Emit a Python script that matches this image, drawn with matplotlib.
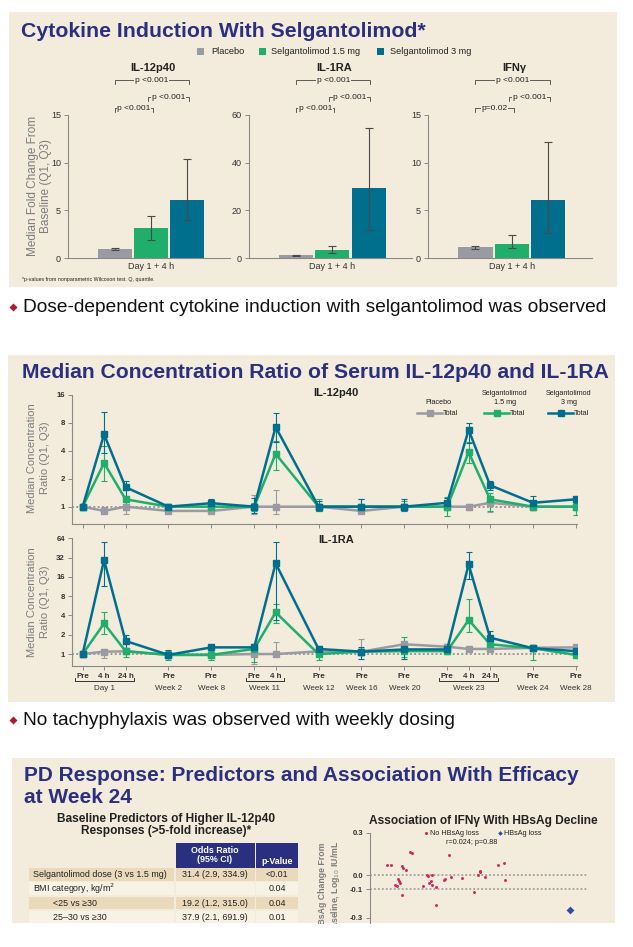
import numpy as np
import matplotlib
matplotlib.use('Agg')
import matplotlib.pyplot as plt
from matplotlib import transforms
from matplotlib.patches import Rectangle
from matplotlib.ticker import NullLocator

plt.rcParams['font.family'] = ['Liberation Sans', 'DejaVu Sans']

W, H = 633, 947

BG = '#f3ebdb'
NAVY = '#2b2f80'
GRAY = '#9a9aa3'
GREEN = '#1fae6b'
TEAL = '#006f8e'
SPINE = '#8a8a8a'
LABEL = '#7d7d7d'

# ---------------- data: bar charts (day 1 + 4 h, median fold change, Q1, Q3)
groups = ['Placebo', 'Selgantolimod 1.5 mg', 'Selgantolimod 3 mg']
il12_med = [0.94, 3.1, 6.1]
il12_q1 = [0.86, 1.9, 4.0]
il12_q3 = [1.0, 4.4, 10.4]
il1ra_med = [1.2, 3.5, 29.4]
il1ra_q1 = [1.0, 2.1, 11.9]
il1ra_q3 = [1.4, 4.9, 54.5]
ifng_med = [1.15, 1.5, 6.1]
ifng_q1 = [0.97, 1.05, 2.6]
ifng_q3 = [1.29, 2.44, 12.2]
pvals_il12 = ['p <0.001', 'p <0.001', 'p <0.001']
pvals_il1ra = ['p <0.001', 'p <0.001', 'p <0.001']
pvals_ifng = ['p <0.001', 'p <0.001', 'p=0.02']

# ---------------- data: concentration ratio over time
visits = [('Day 1', ['Pre', '4 h', '24 h']), ('Week 2', ['Pre']), ('Week 8', ['Pre']),
          ('Week 11', ['Pre', '4 h']), ('Week 12', ['Pre']), ('Week 16', ['Pre']),
          ('Week 20', ['Pre']), ('Week 23', ['Pre', '4 h', '24 h']), ('Week 24', ['Pre']),
          ('Week 28', ['Pre'])]

p12_pbo = [1.0, 0.9, 1.0, 0.9, 0.9, 1.0, 1.0, 1.0, 0.9, 1.0, 1.0, 1.0, 1.1, 1.0, 1.0]
p12_pbo_q1 = [1.0, 0.85, 0.84, 0.85, 0.85, 0.84, 0.84, 0.95, 0.85, 0.95, 0.95, 0.92, 0.88, 0.95, 0.95]
p12_pbo_q3 = [1.0, 1.0, 1.25, 0.95, 0.95, 1.35, 1.5, 1.05, 0.95, 1.05, 1.05, 1.07, 1.25, 1.05, 1.05]
p12_lo = [1.0, 2.95, 1.2, 1.0, 1.0, 1.0, 3.7, 1.0, 1.0, 1.0, 1.0, 3.85, 1.2, 1.0, 1.0]
p12_lo_q1 = [1.0, 1.9, 1.08, 0.93, 0.93, 0.9, 2.45, 0.9, 0.9, 0.92, 0.8, 2.95, 0.9, 0.92, 0.82]
p12_lo_q3 = [1.0, 4.5, 1.3, 1.07, 1.07, 1.1, 5.1, 1.2, 1.2, 1.15, 1.27, 5.0, 1.4, 1.1, 1.18]
p12_hi = [1.0, 6.0, 1.62, 1.0, 1.09, 1.0, 7.2, 1.0, 1.0, 1.0, 1.1, 6.7, 1.7, 1.1, 1.2]
p12_hi_q1 = [1.0, 3.8, 1.28, 0.93, 1.0, 0.85, 5.0, 0.9, 0.9, 0.9, 0.95, 4.8, 1.5, 0.92, 1.1]
p12_hi_q3 = [1.0, 10.3, 1.9, 1.08, 1.2, 1.25, 10.1, 1.15, 1.2, 1.2, 1.25, 8.0, 1.9, 1.3, 1.25]

ra_pbo = [1.0, 1.09, 1.1, 0.97, 0.97, 1.0, 1.0, 1.1, 1.09, 1.42, 1.3, 1.2, 1.2, 1.25, 1.27]
ra_pbo_q1 = [1.0, 0.88, 1.0, 0.9, 0.9, 0.7, 1.0, 1.0, 1.0, 1.3, 1.2, 1.15, 1.1, 1.15, 1.2]
ra_pbo_q3 = [1.0, 1.2, 1.2, 1.05, 1.05, 1.27, 1.52, 1.2, 1.7, 1.55, 1.4, 1.25, 1.3, 1.35, 1.35]
ra_lo = [1.0, 3.0, 1.11, 0.97, 0.97, 1.2, 4.47, 1.0, 1.09, 1.11, 1.11, 3.4, 1.42, 1.23, 0.97]
ra_lo_q1 = [1.0, 2.03, 0.9, 0.82, 0.82, 0.75, 3.1, 0.8, 0.95, 0.9, 1.0, 2.2, 1.27, 0.8, 0.9]
ra_lo_q3 = [1.0, 4.57, 1.2, 1.12, 1.12, 1.35, 5.95, 1.2, 1.2, 1.83, 1.45, 7.1, 1.6, 1.3, 1.05]
ra_hi = [1.0, 29.3, 1.6, 0.97, 1.27, 1.27, 26.0, 1.2, 1.09, 1.18, 1.18, 25.0, 1.8, 1.23, 1.11]
ra_hi_q1 = [1.0, 11.6, 1.25, 0.87, 1.2, 1.1, 3.4, 1.07, 0.85, 0.85, 1.0, 14.8, 1.5, 1.15, 0.97]
ra_hi_q3 = [1.0, 55.0, 1.95, 1.15, 1.35, 1.45, 55.0, 1.35, 1.3, 1.35, 1.45, 39.0, 2.3, 1.3, 1.25]

# ---------------- data: predictors table
tbl_rows = ['Selgantolimod dose (3 vs 1.5 mg)', 'BMI category, kg/m$^2$', '<25 vs \u226530', '25\u201330 vs \u226530']
tbl_indent = [False, False, True, True]
tbl_or = ['31.4 (2.9, 334.9)', '', '19.2 (1.2, 315.0)', '37.9 (2.1, 691.9)']
tbl_p = ['<0.01', '0.04', '0.04', '0.01']

# ---------------- data: IFNy vs HBsAg decline
noloss_x = [0.78, 0.98, 1.86, 1.91, 1.47, 1.50, 1.66, 1.16, 1.24, 1.29, 1.35, 1.40, 1.47, 2.45,
            2.60, 2.68, 2.87, 2.73, 2.79, 2.85, 3.02, 3.05, 3.61, 3.41, 3.44, 3.72, 4.23, 4.78,
            4.96, 5.04, 5.05, 5.30, 5.89, 6.17, 6.22]
noloss_y = [0.075, 0.075, 0.165, 0.155, 0.062, 0.05, 0.035, -0.07, -0.08, -0.025, -0.042, -0.055,
            -0.14, -0.08, -0.002, -0.005, -0.002, -0.055, -0.042, -0.067, -0.082, -0.21, 0.142,
            -0.032, -0.025, -0.015, -0.02, -0.12, -0.002, 0.025, 0.032, -0.015, 0.075, 0.085, -0.032]
loss_x = [9.18]
loss_y = [-0.244]


fig = plt.figure(figsize=(W / 100, H / 100), dpi=100)


def px_axes(left, top, right, bottom, **kw):
    return fig.add_axes([left / W, 1 - bottom / H, (right - left) / W, (bottom - top) / H], **kw)


# background layer (panels) and foreground layer (annotations), both in image pixels
bg = px_axes(0, 0, W, H, zorder=-10)
ov = px_axes(0, 0, W, H, zorder=10)
for a in (bg, ov):
    a.set_xlim(0, W)
    a.set_ylim(H, 0)
    a.axis('off')
    a.set_autoscale_on(False)
ov.patch.set_alpha(0)

for (x0, y0, x1, y1) in [(9, 12, 617, 287), (8, 355, 615, 702), (12, 758, 615, 923)]:
    bg.add_patch(Rectangle((x0, y0), x1 - x0, y1 - y0, color=BG, lw=0))

# titles and bullets
ov.text(21, 31, 'Cytokine Induction With Selgantolimod*', fontsize=15.3, weight='bold', color=NAVY, va='center')
ov.text(22, 372, 'Median Concentration Ratio of Serum IL-12p40 and IL-1RA', fontsize=15.2, weight='bold',
        color=NAVY, va='center')
ov.text(24, 775, 'PD Response: Predictors and Association With Efficacy', fontsize=15, weight='bold',
        color=NAVY, va='center')
ov.text(24, 797, 'at Week 24', fontsize=15, weight='bold', color=NAVY, va='center')

for y, txt in [(307, 'Dose-dependent cytokine induction with selgantolimod was observed'),
               (720, 'No tachyphylaxis was observed with weekly dosing')]:
    ov.plot([13], [y], marker='D', ms=4.5, color='#b01c2e', mec='none')
    ov.text(23, y, txt, fontsize=13.8, va='center', color='#111111')


# ---------------- top: bar charts
def style_axes(ax):
    ax.patch.set_alpha(0)
    for s in ('top', 'right'):
        ax.spines[s].set_visible(False)
    for s in ('left', 'bottom'):
        ax.spines[s].set_color(SPINE)
        ax.spines[s].set_linewidth(0.8)
    ax.tick_params(colors=SPINE, labelcolor='#333333', width=0.7, length=3)


def bracket(ax, x0, x1, y, txt):
    tr = transforms.blended_transform_factory(ax.transData, ov.transData)
    ov.plot([x0, x0, x1, x1], [y + 4, y, y, y + 4], transform=tr, color='#444444', lw=0.6)
    ov.text((x0 + x1) / 2, y, txt, transform=tr, ha='center', va='center', fontsize=6, color='#222222',
            bbox=dict(fc=BG, ec='none', pad=0.5))


bar_specs = [
    ('IL-12p40', 68, 230, il12_med, il12_q1, il12_q3, 15, [0, 5, 10, 15], pvals_il12),
    ('IL-1RA', 249, 412, il1ra_med, il1ra_q1, il1ra_q3, 60, [0, 20, 40, 60], pvals_il1ra),
    ('IFN\u03b3', 428, 592, ifng_med, ifng_q1, ifng_q3, 15, [0, 5, 10, 15], pvals_ifng),
]
x = np.arange(len(groups))
for title, left, right, med, q1, q3, ymax, yt, pv in bar_specs:
    ax = px_axes(left, 115, right, 258)
    style_axes(ax)
    med = np.array(med)
    err = [med - np.array(q1), np.array(q3) - med]
    ax.bar(x, med, width=0.94, color=[GRAY, GREEN, TEAL])
    ax.errorbar(x, med, yerr=err, fmt='none', ecolor='#4a4a4a', elinewidth=0.8, capsize=3, capthick=0.8)
    ax.set_xlim(-1.3, 3.2)
    ax.set_ylim(0, ymax)
    ax.set_yticks(yt)
    ax.set_xticks([1])
    ax.set_xticklabels(['Day 1 + 4 h'])
    ax.tick_params(axis='x', length=0, labelsize=6.5, pad=3)
    ax.tick_params(axis='y', labelsize=6.5, pad=2)
    ov.text((left + right) / 2 + 4, 68, title, fontsize=8, weight='bold', ha='center', va='center',
            color='#222222')
    bracket(ax, 0.0, 2.05, 80, pv[0])
    bracket(ax, 0.92, 2.05, 97, pv[1])
    bracket(ax, 0.0, 1.06, 108, pv[2])

ov.text(39.5, 186, 'Median Fold Change From\nBaseline (Q1, Q3)', rotation=90, fontsize=8.5, color=LABEL,
        ha='center', va='center', linespacing=1.2)
ov.text(22, 279, '*p-values from nonparametric Wilcoxon test. Q, quartile.', fontsize=3.8, color='#222222',
        va='center')

for sx, tx, col, lab in [(200, 211, GRAY, groups[0]), (262, 271, GREEN, groups[1]), (380, 390, TEAL, groups[2])]:
    ov.add_patch(Rectangle((sx - 3.5, 47.5), 7, 7, color=col, lw=0))
    ov.text(tx, 51, lab, fontsize=6.6, va='center', color='#222222')

# ---------------- middle: concentration ratio over time
pos, tick_labs, grp_pos = [], [], []
p = 0
for name, pts in visits:
    start = p
    for t in pts:
        pos.append(p)
        tick_labs.append(t)
        p += 1
    grp_pos.append((name, start, p - 1))
    p += 1
pos = np.array(pos)


def line_panel(ax, series, ylo, yhi, yticks):
    style_axes(ax)
    ax.axhline(1, color='#9a9a9a', lw=1.4, ls=(0, (1, 1.2)), zorder=1)
    for med, q1, q3, col in series:
        med = np.array(med)
        err = [med - np.array(q1), np.array(q3) - med]
        ax.errorbar(pos, med, yerr=err, color=col, lw=1.8, marker='s', ms=4, elinewidth=0.8,
                    capsize=2.2, capthick=0.8, zorder=3)
    ax.set_yscale('log', base=2)
    ax.set_ylim(ylo, yhi)
    ax.set_yticks(yticks)
    ax.set_yticklabels([str(v) for v in yticks])
    ax.yaxis.set_minor_locator(NullLocator())
    ax.set_xlim(-0.51, 23.03)
    ax.set_xticks(pos)
    ax.tick_params(axis='y', labelsize=5.6, pad=2)
    for lab in ax.get_yticklabels():
        lab.set_fontweight('bold')


ax_a = px_axes(71.7, 394.7, 576.5, 524.3)
line_panel(ax_a, [(p12_pbo, p12_pbo_q1, p12_pbo_q3, GRAY), (p12_lo, p12_lo_q1, p12_lo_q3, GREEN),
                  (p12_hi, p12_hi_q1, p12_hi_q3, TEAL)], 2 ** -0.63, 16, [1, 2, 4, 8, 16])
ax_a.set_xticklabels([])

ax_b = px_axes(71.7, 538.2, 576.5, 666)
line_panel(ax_b, [(ra_pbo, ra_pbo_q1, ra_pbo_q3, GRAY), (ra_lo, ra_lo_q1, ra_lo_q3, GREEN),
                  (ra_hi, ra_hi_q1, ra_hi_q3, TEAL)], 2 ** -0.62, 64, [1, 2, 4, 8, 16, 32, 64])
ax_b.set_xticklabels(tick_labs, fontsize=5.8, fontweight='bold')
ax_b.tick_params(axis='x', pad=2)

trb = transforms.blended_transform_factory(ax_b.transData, ov.transData)
for name, a, b in grp_pos:
    ov.text((a + b) / 2, 688, name, transform=trb, ha='center', va='center', fontsize=5.8, color='#333333')
    if b > a:
        ov.plot([a - 0.36, a - 0.36, b + 0.38, b + 0.38], [678, 681, 681, 678], transform=trb,
                color='#333333', lw=0.7)

for a, title, yc in [(ax_a, 'IL-12p40', 393), (ax_b, 'IL-1RA', 540)]:
    ov.text(336, yc, title, fontsize=8, weight='bold', ha='center', va='center', color='#222222')
    ov.text(38.5, yc + (65 if yc < 500 else 62), 'Median Concentration\nRatio (Q1, Q3)', rotation=90,
            fontsize=8, color=LABEL, ha='center', va='center', linespacing=1.3)

for x0, col, head in [(417, GRAY, 'Placebo'), (484, GREEN, 'Selgantolimod\n1.5 mg'),
                      (548, TEAL, 'Selgantolimod\n3 mg')]:
    ov.plot([x0, x0 + 25], [413, 413], color=col, lw=1.8)
    ov.plot([x0 + 12.5], [413], marker='s', ms=4, color=col)
    ov.text(x0 + 26, 413, 'Total', fontsize=5.3, va='center', color='#222222')
    ov.text(x0 + 21, 398 if '\n' in head else 402, head, fontsize=5.2, ha='center', va='center',
            color='#222222', linespacing=1.3)

# ---------------- bottom left: predictors table
ov.text(166, 818.5, 'Baseline Predictors of Higher IL-12p40', fontsize=8.6, weight='bold', ha='center',
        va='center', color='#222222')
ov.text(166, 831, 'Responses (>5-fold increase)*', fontsize=8.6, weight='bold', ha='center', va='center',
        color='#222222')

cols = [(29.3, 174), (175.5, 254.5), (256, 298.3)]
row_y = [867.7, 881.5, 896, 910, 924]
for c in cols[1:]:
    ov.add_patch(Rectangle((c[0], 842.7), c[1] - c[0], 867.7 - 842.7, color=NAVY, lw=0))
ov.text(sum(cols[1]) / 2, 855, 'Odds Ratio\n(95% CI)', color='white', fontsize=6.4, weight='bold', ha='center',
        va='center', linespacing=1.1)
ov.text(sum(cols[2]) / 2, 861, 'p-Value', color='white', fontsize=6.4, weight='bold', ha='center', va='center')
for i, (lab, ind, orv, pv) in enumerate(zip(tbl_rows, tbl_indent, tbl_or, tbl_p)):
    y0, y1 = row_y[i], row_y[i + 1]
    fc = '#ead9bb' if i % 2 == 0 else '#f8f2e5'
    for c in cols:
        ov.add_patch(Rectangle((c[0], y0 + 0.6), c[1] - c[0], y1 - y0 - 1.2, color=fc, lw=0))
    yc = (y0 + y1) / 2
    ov.text(53.3 if ind else 33.3, yc, lab, fontsize=6.4, va='center', color='#222222')
    ov.text(sum(cols[1]) / 2, yc, orv, fontsize=6.4, va='center', ha='center', color='#222222')
    ov.text(sum(cols[2]) / 2, yc, pv, fontsize=6.4, va='center', ha='center', color='#222222')

# ---------------- bottom right: IFNy vs HBsAg decline
ax_s = px_axes(370, 832.7, 592, 967)
style_axes(ax_s)
ax_s.spines['bottom'].set_visible(False)
ax_s.set_xlim(0, 10.2)
ax_s.set_ylim(-0.65, 0.3)
ax_s.set_xticks([])
ax_s.set_yticks([0.3, 0.0, -0.1, -0.3, -0.36])
ax_s.set_yticklabels(['0.3', '0.0', '-0.1', '-0.3', '-1.00'])
ax_s.tick_params(axis='y', labelsize=5.5, pad=2)
for lab in ax_s.get_yticklabels():
    lab.set_fontweight('bold')
for yl in (0.0, -0.1):
    ax_s.plot([0, 10], [yl, yl], color='#a0a0a0', lw=1.3, ls=(0, (1, 1.2)), zorder=1)
ax_s.scatter(noloss_x, noloss_y, s=4.5, color='#d6245f', lw=0, zorder=3)
ax_s.scatter(loss_x, loss_y, s=16, color='#2d4ea8', marker='D', lw=0, zorder=3)

ov.text(483, 821, 'Association of IFN\u03b3 With HBsAg Decline', fontsize=8.6, weight='bold', ha='center',
        va='center', color='#222222')
ov.plot([426], [833.3], marker='o', ms=2.2, color='#d6245f', mec='none')
ov.text(430, 833.3, 'No HBsAg loss', fontsize=5.2, va='center', color='#222222')
ov.plot([500], [833.3], marker='D', ms=2.4, color='#2d4ea8', mec='none')
ov.text(504, 833.3, 'HBsAg loss', fontsize=5.2, va='center', color='#222222')
ov.text(472, 842, 'r=0.024; p=0.88', fontsize=5.2, ha='center', va='center', color='#222222')
ov.text(330, 840, 'HBsAg Change From\nBaseline, Log$_{10}$ IU/mL', rotation=90, fontsize=6.3, color=LABEL,
        weight='bold', ha='center', va='top', linespacing=1.2)

# the reference is cut off at the bottom
ov.add_patch(Rectangle((0, 923.5), W, H - 923.5, color='white', lw=0, zorder=50))

fig.savefig('out.png', dpi=100, facecolor='white')
